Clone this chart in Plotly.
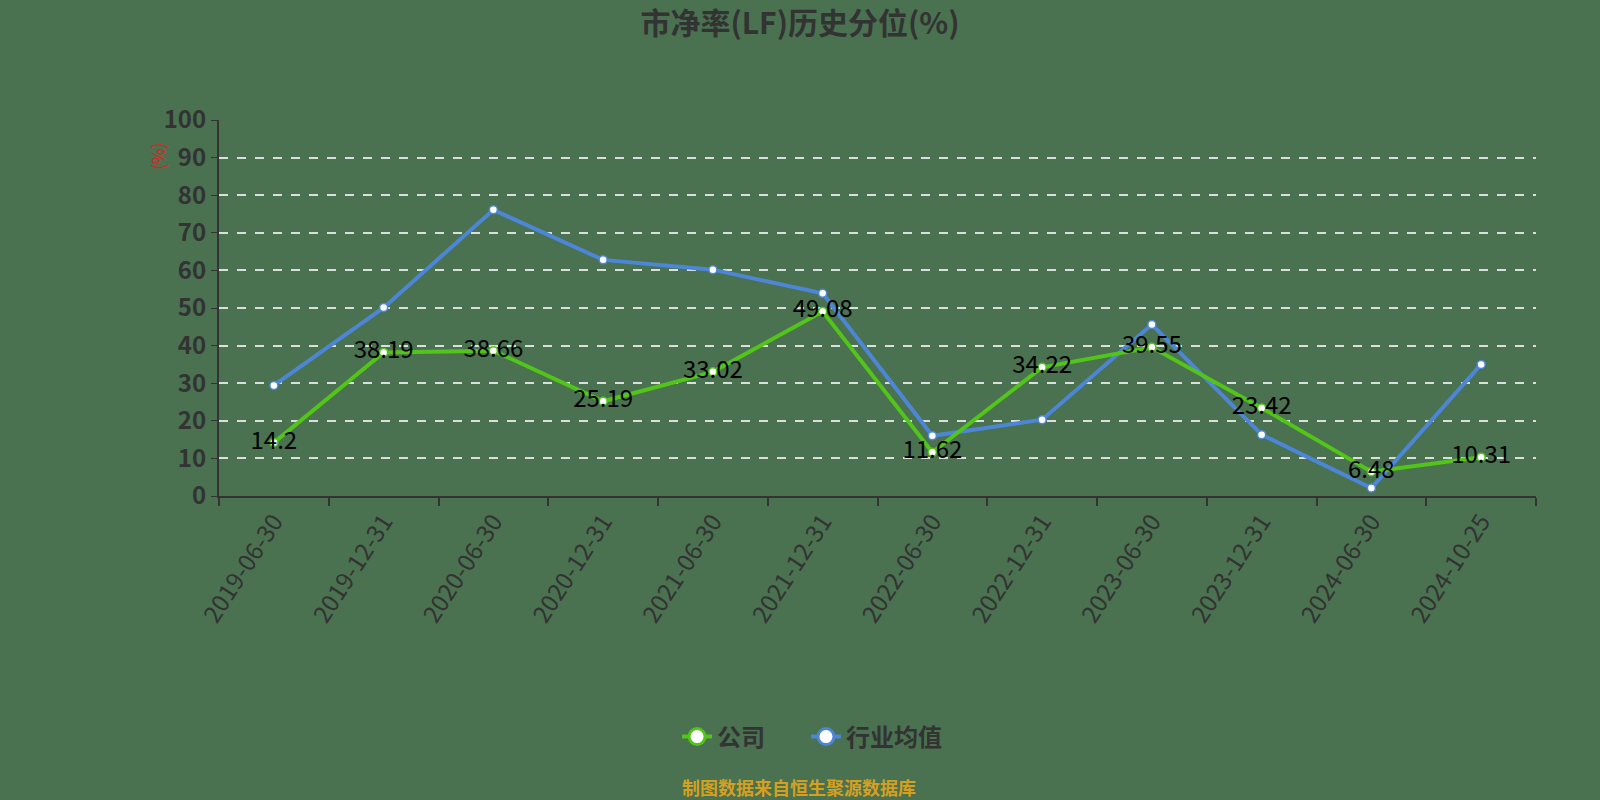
import plotly.graph_objects as go

categories = ["2019-06-30", "2019-12-31", "2020-06-30", "2020-12-31", "2021-06-30", "2021-12-31",
              "2022-06-30", "2022-12-31", "2023-06-30", "2023-12-31", "2024-06-30", "2024-10-25"]
company = [14.2, 38.19, 38.66, 25.19, 33.02, 49.08, 11.62, 34.22, 39.55, 23.42, 6.48, 10.31]
industry = [29.4, 50.1, 76.1, 62.8, 60.2, 53.9, 16.0, 20.3, 45.6, 16.3, 2.1, 35.0]
y_ticks = [0, 10, 20, 30, 40, 50, 60, 70, 80, 90, 100]

BG = "#4a7150"
GREEN = "#52c41a"
BLUE = "#4d86d6"
FONT = "Noto Sans CJK SC"

fig = go.Figure()

fig.add_trace(go.Scatter(
    x=categories, y=industry, mode="lines+markers", name="行业均值",
    line=dict(color=BLUE, width=4),
    marker=dict(size=8, color="white", line=dict(color=BLUE, width=1.5)),
    showlegend=False, cliponaxis=False,
))
fig.add_trace(go.Scatter(
    x=categories, y=company, mode="lines+markers+text", name="公司",
    line=dict(color=GREEN, width=4),
    marker=dict(size=8, color="white", line=dict(color=GREEN, width=1.5)),
    text=[f"{v:g}" for v in company], textposition="middle center",
    textfont=dict(family=FONT, size=24, color="#000000"),
    showlegend=False, cliponaxis=False,
))
# legend-only entries with larger symbols
fig.add_trace(go.Scatter(
    x=[None], y=[None], mode="lines+markers", name="公司", legend="legend",
    line=dict(color=GREEN, width=4),
    marker=dict(size=21, color="white", line=dict(color=GREEN, width=3)),
))
fig.add_trace(go.Scatter(
    x=[None], y=[None], mode="lines+markers", name="行业均值", legend="legend2",
    line=dict(color=BLUE, width=4),
    marker=dict(size=21, color="white", line=dict(color=BLUE, width=3)),
))

legend_font = dict(family=FONT, size=24, color="#333333", weight="bold")

fig.update_layout(
    width=1600, height=800, autosize=False,
    paper_bgcolor=BG, plot_bgcolor=BG,
    margin=dict(l=219, r=64, t=120, b=304),
    font=dict(family=FONT, color="#333333"),
    title=dict(text="市净率(LF)历史分位(%)", x=0.5, xanchor="center", y=0.971, yanchor="middle",
               font=dict(family=FONT, size=30, color="#333333", weight="bold")),
    legend=dict(orientation="h", x=0.3478, xanchor="left", y=-0.641, yanchor="middle",
                font=legend_font, bgcolor="rgba(0,0,0,0)"),
    legend2=dict(orientation="h", x=0.4457, xanchor="left", y=-0.641, yanchor="middle",
                 font=legend_font, bgcolor="rgba(0,0,0,0)"),
    xaxis=dict(
        type="category", categoryorder="array", categoryarray=categories,
        range=[-0.5, 11.5], tickson="boundaries",
        showline=True, linecolor="#333333", linewidth=2,
        ticks="outside", ticklen=8, tickcolor="#333333", tickwidth=1.5,
        showgrid=False, tickangle=-57,
        tickfont=dict(family=FONT, size=24, color="#333333"),
    ),
    yaxis=dict(
        range=[0, 100], tickvals=y_ticks, ticktext=[str(v) for v in y_ticks],
        showline=True, linecolor="#333333", linewidth=2,
        ticks="outside", ticklen=6, tickcolor="#333333",
        showgrid=True, gridcolor="rgba(235,235,235,0.9)", griddash="dash", gridwidth=1.5,
        zeroline=False,
        tickfont=dict(family=FONT, size=24, color="#333333", weight="bold"),
    ),
    annotations=[
        dict(text="(%)", xref="paper", yref="paper", x=-0.0473, y=0.904, showarrow=False,
             xanchor="center", yanchor="middle",
             textangle=-90, font=dict(family=FONT, size=17, color="#e02020")),
        dict(text="制图数据来自恒生聚源数据库", xref="paper", yref="paper", x=0.4405, y=-0.774,
             xanchor="center", yanchor="middle", showarrow=False,
             font=dict(family=FONT, size=18, color="#d4a020", weight="bold")),
    ],
)

fig.write_html("out.html", config={"displayModeBar": False},
               post_script="document.body.style.margin='0';document.body.style.overflow='hidden';")
